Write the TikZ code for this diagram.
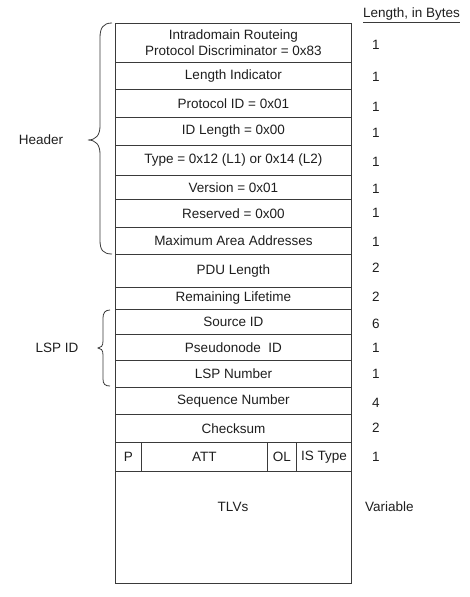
\documentclass[tikz,border=0pt]{standalone}
\usepackage{fontspec}
\setmainfont{Liberation Sans}
\definecolor{linec}{HTML}{3A3A3A}
\definecolor{txtc}{HTML}{1E1E1E}
\tikzset{
  cell/.style={draw=linec, line width=0.8pt, anchor=north west, inner sep=0pt, align=center,
    font=\fontsize{13.5}{15.5}\selectfont, text=txtc},
  lab/.style={font=\fontsize{13.5}{15.5}\selectfont, text=txtc, inner sep=0pt},
  num/.style={lab, anchor=west},
  bracel/.style={draw=linec, line width=0.8pt},
}
\begin{document}
\begin{tikzpicture}[x=1pt,y=-1pt]
\useasboundingbox (0,0) rectangle (470,597);
% rows
\node[cell, minimum width=236pt, minimum height=39pt] (r1) at (115,23) {Intradomain Routeing\\Protocol Discriminator = 0x83};
\node[cell, minimum width=236pt, minimum height=27pt] (r2) at (115,62) {Length Indicator};
\node[cell, minimum width=236pt, minimum height=28pt] (r3) at (115,89) {Protocol ID = 0x01};
\node[cell, minimum width=236pt, minimum height=28pt] (r4) at (115,117) {ID Length = 0x00};
\node[cell, minimum width=236pt, minimum height=30pt] (r5) at (115,145) {Type = 0x12 (L1) or 0x14 (L2)};
\node[cell, minimum width=236pt, minimum height=24pt] (r6) at (115,175) {Version = 0x01};
\node[cell, minimum width=236pt, minimum height=28pt] (r7) at (115,199) {Reserved = 0x00};
\node[cell, minimum width=236pt, minimum height=27pt] (r8) at (115,227) {Maximum Area Addresses};
\node[cell, minimum width=236pt, minimum height=33pt] (r9) at (115,254) {PDU Length};
\node[cell, minimum width=236pt, minimum height=22pt] (r10) at (115,287) {Remaining Lifetime};
\node[cell, minimum width=236pt, minimum height=25pt] (r11) at (115,309) {Source ID};
\node[cell, minimum width=236pt, minimum height=26pt] (r12) at (115,334) {Pseudonode\ \ ID};
\node[cell, minimum width=236pt, minimum height=27pt] (r13) at (115,360) {LSP Number};
\node[cell, minimum width=236pt, minimum height=27pt] (r14) at (115,387) {Sequence Number};
\node[cell, minimum width=236pt, minimum height=28pt] (r15) at (115,414) {Checksum};
% flags row
\node[cell, minimum width=26pt, minimum height=29pt] (fp) at (115,442) {P};
\node[cell, minimum width=126pt, minimum height=29pt] (fatt) at (141,442) {ATT};
\node[cell, minimum width=29pt, minimum height=29pt] (fol) at (267,442) {OL};
\node[cell, minimum width=55pt, minimum height=29pt] (fis) at (296,442) {IS Type};
% TLVs
\node[cell, minimum width=236pt, minimum height=112pt] (r17) at (115,471) {};
\node[lab] (tlv) at (233,507) {TLVs};
% lengths column
\node[num] (hdr) at (363,14) {Length, in Bytes};
\draw[linec, line width=0.6pt] ([yshift=-2pt]hdr.south west) -- ([yshift=-2pt]hdr.south east);
\node[num] (n1) at (372,45) {1};
\node[num] (n2) at (372,77) {1};
\node[num] (n3) at (372,107) {1};
\node[num] (n4) at (372,133) {1};
\node[num] (n5) at (372,162) {1};
\node[num] (n6) at (372,189) {1};
\node[num] (n7) at (372,213) {1};
\node[num] (n8) at (372,242) {1};
\node[num] (n9) at (372,268) {2};
\node[num] (n10) at (372,297) {2};
\node[num] (n11) at (372,324) {6};
\node[num] (n12) at (372,348) {1};
\node[num] (n13) at (372,374) {1};
\node[num] (n14) at (372,403) {4};
\node[num] (n15) at (372,428) {2};
\node[num] (n16) at (372,457) {1};
\node[num] (n17) at (365,507) {Variable};
% left labels and braces
\node[lab] (header) at (41,140) {Header};
\node[lab] (lspid) at (57,348) {LSP ID};
\draw[bracel] (112,23) .. controls (103,23) and (100,28) .. (100,38) -- (100,126)
  .. controls (100,135) and (96,140) .. (88,140)
  .. controls (96,140) and (100,145) .. (100,154) -- (100,240)
  .. controls (100,250) and (103,254) .. (112,254);
\draw[bracel] (110,310) .. controls (105,310) and (103,313) .. (103,318) -- (103,341)
  .. controls (103,346) and (101,348) .. (98,348)
  .. controls (101,348) and (103,350) .. (103,355) -- (103,379)
  .. controls (103,384) and (105,386) .. (110,386);
\end{tikzpicture}
\end{document}
